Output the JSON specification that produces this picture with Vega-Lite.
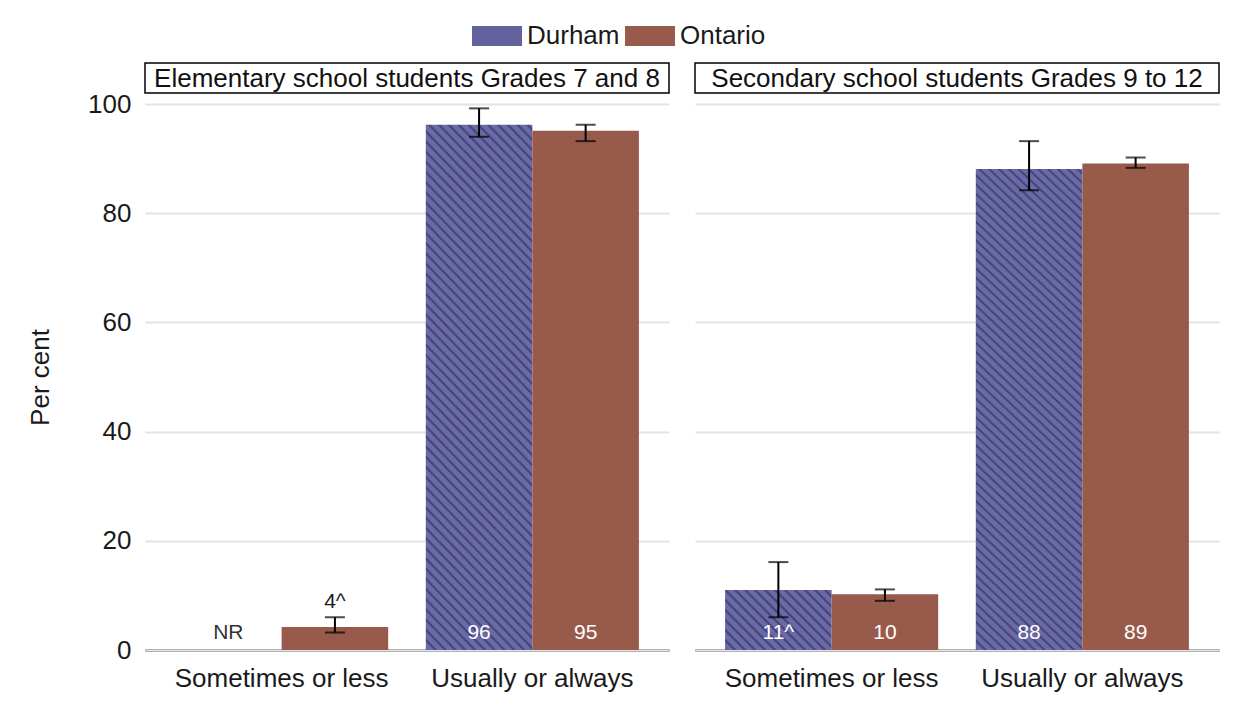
{
  "$schema": "https://vega.github.io/schema/vega-lite/v6.json",
  "background": "white",
  "padding": {"left": 27, "top": 23, "right": 5, "bottom": 5},
  "data": {
    "values": [
      {"panel": "Elementary school students Grades 7 and 8", "category": "Sometimes or less", "region": "Durham", "value": null, "lo": null, "hi": null, "label": "NR"},
      {"panel": "Elementary school students Grades 7 and 8", "category": "Sometimes or less", "region": "Ontario", "value": 4.2, "lo": 3.2, "hi": 6.0, "label": "4^"},
      {"panel": "Elementary school students Grades 7 and 8", "category": "Usually or always", "region": "Durham", "value": 96.2, "lo": 94.0, "hi": 99.2, "label": "96"},
      {"panel": "Elementary school students Grades 7 and 8", "category": "Usually or always", "region": "Ontario", "value": 95.1, "lo": 93.2, "hi": 96.2, "label": "95"},
      {"panel": "Secondary school students Grades 9 to 12", "category": "Sometimes or less", "region": "Durham", "value": 11.0, "lo": 6.0, "hi": 16.1, "label": "11^"},
      {"panel": "Secondary school students Grades 9 to 12", "category": "Sometimes or less", "region": "Ontario", "value": 10.2, "lo": 9.0, "hi": 11.1, "label": "10"},
      {"panel": "Secondary school students Grades 9 to 12", "category": "Usually or always", "region": "Durham", "value": 88.1, "lo": 84.2, "hi": 93.2, "label": "88"},
      {"panel": "Secondary school students Grades 9 to 12", "category": "Usually or always", "region": "Ontario", "value": 89.1, "lo": 88.3, "hi": 90.2, "label": "89"}
    ]
  },
  "facet": {
    "column": {
      "field": "panel",
      "type": "nominal",
      "sort": ["Elementary school students Grades 7 and 8", "Secondary school students Grades 9 to 12"],
      "title": null,
      "header": {"labels": false, "title": null}
    }
  },
  "spacing": 24,
  "spec": {
    "width": 524,
    "height": 546,
    "layer": [
      {
        "mark": {"type": "bar"},
        "encoding": {
          "x": {"field": "category", "type": "nominal", "title": null, "scale": {"paddingInner": 0.15, "paddingOuter": 0.12}},
          "xOffset": {"field": "region", "type": "nominal", "sort": ["Durham", "Ontario"], "scale": {"paddingInner": 0}},
          "y": {"field": "value", "type": "quantitative", "title": "Per cent", "scale": {"domain": [0, 100], "nice": false},
                "axis": {"values": [0, 20, 40, 60, 80, 100]}},
          "color": {
            "condition": [
              {"test": "datum.region == 'Durham' && datum.value >= 50", "value": {
                "gradient": "linear", "x1": 0, "y1": 1, "x2": 0.2432, "y2": -0.159,
                "stops": [
                  {"offset": 0, "color": "#3d3d70"}, {"offset": 0.004, "color": "#6a6aa7"}, {"offset": 0.012, "color": "#6a6aa7"},
                  {"offset": 0.016, "color": "#3d3d70"}, {"offset": 0.02, "color": "#6a6aa7"}, {"offset": 0.028, "color": "#6a6aa7"},
                  {"offset": 0.032, "color": "#3d3d70"}, {"offset": 0.036, "color": "#6a6aa7"}, {"offset": 0.044, "color": "#6a6aa7"},
                  {"offset": 0.048, "color": "#3d3d70"}, {"offset": 0.052, "color": "#6a6aa7"}, {"offset": 0.06, "color": "#6a6aa7"},
                  {"offset": 0.064, "color": "#3d3d70"}, {"offset": 0.068, "color": "#6a6aa7"}, {"offset": 0.076, "color": "#6a6aa7"},
                  {"offset": 0.08, "color": "#3d3d70"}, {"offset": 0.084, "color": "#6a6aa7"}, {"offset": 0.092, "color": "#6a6aa7"},
                  {"offset": 0.096, "color": "#3d3d70"}, {"offset": 0.1, "color": "#6a6aa7"}, {"offset": 0.108, "color": "#6a6aa7"},
                  {"offset": 0.112, "color": "#3d3d70"}, {"offset": 0.116, "color": "#6a6aa7"}, {"offset": 0.124, "color": "#6a6aa7"},
                  {"offset": 0.128, "color": "#3d3d70"}, {"offset": 0.132, "color": "#6a6aa7"}, {"offset": 0.14, "color": "#6a6aa7"},
                  {"offset": 0.144, "color": "#3d3d70"}, {"offset": 0.148, "color": "#6a6aa7"}, {"offset": 0.156, "color": "#6a6aa7"},
                  {"offset": 0.16, "color": "#3d3d70"}, {"offset": 0.164, "color": "#6a6aa7"}, {"offset": 0.172, "color": "#6a6aa7"},
                  {"offset": 0.176, "color": "#3d3d70"}, {"offset": 0.18, "color": "#6a6aa7"}, {"offset": 0.188, "color": "#6a6aa7"},
                  {"offset": 0.192, "color": "#3d3d70"}, {"offset": 0.196, "color": "#6a6aa7"}, {"offset": 0.204, "color": "#6a6aa7"},
                  {"offset": 0.208, "color": "#3d3d70"}, {"offset": 0.212, "color": "#6a6aa7"}, {"offset": 0.22, "color": "#6a6aa7"},
                  {"offset": 0.224, "color": "#3d3d70"}, {"offset": 0.228, "color": "#6a6aa7"}, {"offset": 0.236, "color": "#6a6aa7"},
                  {"offset": 0.24, "color": "#3d3d70"}, {"offset": 0.244, "color": "#6a6aa7"}, {"offset": 0.252, "color": "#6a6aa7"},
                  {"offset": 0.256, "color": "#3d3d70"}, {"offset": 0.26, "color": "#6a6aa7"}, {"offset": 0.268, "color": "#6a6aa7"},
                  {"offset": 0.272, "color": "#3d3d70"}, {"offset": 0.276, "color": "#6a6aa7"}, {"offset": 0.284, "color": "#6a6aa7"},
                  {"offset": 0.288, "color": "#3d3d70"}, {"offset": 0.292, "color": "#6a6aa7"}, {"offset": 0.3, "color": "#6a6aa7"},
                  {"offset": 0.304, "color": "#3d3d70"}, {"offset": 0.308, "color": "#6a6aa7"}, {"offset": 0.316, "color": "#6a6aa7"},
                  {"offset": 0.32, "color": "#3d3d70"}, {"offset": 0.324, "color": "#6a6aa7"}, {"offset": 0.332, "color": "#6a6aa7"},
                  {"offset": 0.336, "color": "#3d3d70"}, {"offset": 0.34, "color": "#6a6aa7"}, {"offset": 0.348, "color": "#6a6aa7"},
                  {"offset": 0.352, "color": "#3d3d70"}, {"offset": 0.356, "color": "#6a6aa7"}, {"offset": 0.364, "color": "#6a6aa7"},
                  {"offset": 0.368, "color": "#3d3d70"}, {"offset": 0.372, "color": "#6a6aa7"}, {"offset": 0.38, "color": "#6a6aa7"},
                  {"offset": 0.384, "color": "#3d3d70"}, {"offset": 0.388, "color": "#6a6aa7"}, {"offset": 0.396, "color": "#6a6aa7"},
                  {"offset": 0.4, "color": "#3d3d70"}, {"offset": 0.404, "color": "#6a6aa7"}, {"offset": 0.412, "color": "#6a6aa7"},
                  {"offset": 0.416, "color": "#3d3d70"}, {"offset": 0.42, "color": "#6a6aa7"}, {"offset": 0.428, "color": "#6a6aa7"},
                  {"offset": 0.432, "color": "#3d3d70"}, {"offset": 0.436, "color": "#6a6aa7"}, {"offset": 0.444, "color": "#6a6aa7"},
                  {"offset": 0.448, "color": "#3d3d70"}, {"offset": 0.452, "color": "#6a6aa7"}, {"offset": 0.46, "color": "#6a6aa7"},
                  {"offset": 0.464, "color": "#3d3d70"}, {"offset": 0.468, "color": "#6a6aa7"}, {"offset": 0.476, "color": "#6a6aa7"},
                  {"offset": 0.48, "color": "#3d3d70"}, {"offset": 0.484, "color": "#6a6aa7"}, {"offset": 0.492, "color": "#6a6aa7"},
                  {"offset": 0.496, "color": "#3d3d70"}, {"offset": 0.5, "color": "#6a6aa7"}, {"offset": 0.508, "color": "#6a6aa7"},
                  {"offset": 0.512, "color": "#3d3d70"}, {"offset": 0.516, "color": "#6a6aa7"}, {"offset": 0.524, "color": "#6a6aa7"},
                  {"offset": 0.528, "color": "#3d3d70"}, {"offset": 0.532, "color": "#6a6aa7"}, {"offset": 0.54, "color": "#6a6aa7"},
                  {"offset": 0.544, "color": "#3d3d70"}, {"offset": 0.548, "color": "#6a6aa7"}, {"offset": 0.556, "color": "#6a6aa7"},
                  {"offset": 0.56, "color": "#3d3d70"}, {"offset": 0.564, "color": "#6a6aa7"}, {"offset": 0.572, "color": "#6a6aa7"},
                  {"offset": 0.576, "color": "#3d3d70"}, {"offset": 0.58, "color": "#6a6aa7"}, {"offset": 0.588, "color": "#6a6aa7"},
                  {"offset": 0.592, "color": "#3d3d70"}, {"offset": 0.596, "color": "#6a6aa7"}, {"offset": 0.604, "color": "#6a6aa7"},
                  {"offset": 0.608, "color": "#3d3d70"}, {"offset": 0.612, "color": "#6a6aa7"}, {"offset": 0.62, "color": "#6a6aa7"},
                  {"offset": 0.624, "color": "#3d3d70"}, {"offset": 0.628, "color": "#6a6aa7"}, {"offset": 0.636, "color": "#6a6aa7"},
                  {"offset": 0.64, "color": "#3d3d70"}, {"offset": 0.644, "color": "#6a6aa7"}, {"offset": 0.652, "color": "#6a6aa7"},
                  {"offset": 0.656, "color": "#3d3d70"}, {"offset": 0.66, "color": "#6a6aa7"}, {"offset": 0.668, "color": "#6a6aa7"},
                  {"offset": 0.672, "color": "#3d3d70"}, {"offset": 0.676, "color": "#6a6aa7"}, {"offset": 0.684, "color": "#6a6aa7"},
                  {"offset": 0.688, "color": "#3d3d70"}, {"offset": 0.692, "color": "#6a6aa7"}, {"offset": 0.7, "color": "#6a6aa7"},
                  {"offset": 0.704, "color": "#3d3d70"}, {"offset": 0.708, "color": "#6a6aa7"}, {"offset": 0.716, "color": "#6a6aa7"},
                  {"offset": 0.72, "color": "#3d3d70"}, {"offset": 0.724, "color": "#6a6aa7"}, {"offset": 0.732, "color": "#6a6aa7"},
                  {"offset": 0.736, "color": "#3d3d70"}, {"offset": 0.74, "color": "#6a6aa7"}, {"offset": 0.748, "color": "#6a6aa7"},
                  {"offset": 0.752, "color": "#3d3d70"}, {"offset": 0.756, "color": "#6a6aa7"}, {"offset": 0.764, "color": "#6a6aa7"},
                  {"offset": 0.768, "color": "#3d3d70"}, {"offset": 0.772, "color": "#6a6aa7"}, {"offset": 0.78, "color": "#6a6aa7"},
                  {"offset": 0.784, "color": "#3d3d70"}, {"offset": 0.788, "color": "#6a6aa7"}, {"offset": 0.796, "color": "#6a6aa7"},
                  {"offset": 0.8, "color": "#3d3d70"}, {"offset": 0.804, "color": "#6a6aa7"}, {"offset": 0.812, "color": "#6a6aa7"},
                  {"offset": 0.816, "color": "#3d3d70"}, {"offset": 0.82, "color": "#6a6aa7"}, {"offset": 0.828, "color": "#6a6aa7"},
                  {"offset": 0.832, "color": "#3d3d70"}, {"offset": 0.836, "color": "#6a6aa7"}, {"offset": 0.844, "color": "#6a6aa7"},
                  {"offset": 0.848, "color": "#3d3d70"}, {"offset": 0.852, "color": "#6a6aa7"}, {"offset": 0.86, "color": "#6a6aa7"},
                  {"offset": 0.864, "color": "#3d3d70"}, {"offset": 0.868, "color": "#6a6aa7"}, {"offset": 0.876, "color": "#6a6aa7"},
                  {"offset": 0.88, "color": "#3d3d70"}, {"offset": 0.884, "color": "#6a6aa7"}, {"offset": 0.892, "color": "#6a6aa7"},
                  {"offset": 0.896, "color": "#3d3d70"}, {"offset": 0.9, "color": "#6a6aa7"}, {"offset": 0.908, "color": "#6a6aa7"},
                  {"offset": 0.912, "color": "#3d3d70"}, {"offset": 0.916, "color": "#6a6aa7"}, {"offset": 0.924, "color": "#6a6aa7"},
                  {"offset": 0.928, "color": "#3d3d70"}, {"offset": 0.932, "color": "#6a6aa7"}, {"offset": 0.94, "color": "#6a6aa7"},
                  {"offset": 0.944, "color": "#3d3d70"}, {"offset": 0.948, "color": "#6a6aa7"}, {"offset": 0.956, "color": "#6a6aa7"},
                  {"offset": 0.96, "color": "#3d3d70"}, {"offset": 0.964, "color": "#6a6aa7"}, {"offset": 0.972, "color": "#6a6aa7"},
                  {"offset": 0.976, "color": "#3d3d70"}, {"offset": 0.98, "color": "#6a6aa7"}, {"offset": 0.988, "color": "#6a6aa7"},
                  {"offset": 0.992, "color": "#3d3d70"}, {"offset": 0.996, "color": "#6a6aa7"}, {"offset": 1, "color": "#6a6aa7"}
                ]
              }},
              {"test": "datum.region == 'Durham' && datum.value < 50", "value": {
                "gradient": "linear", "x1": 0, "y1": 1, "x2": 1.1874, "y2": 0.3342,
                "stops": [
                  {"offset": 0, "color": "#3d3d70"}, {"offset": 0.015, "color": "#6a6aa7"}, {"offset": 0.045, "color": "#6a6aa7"},
                  {"offset": 0.06, "color": "#3d3d70"}, {"offset": 0.075, "color": "#6a6aa7"}, {"offset": 0.105, "color": "#6a6aa7"},
                  {"offset": 0.12, "color": "#3d3d70"}, {"offset": 0.135, "color": "#6a6aa7"}, {"offset": 0.165, "color": "#6a6aa7"},
                  {"offset": 0.18, "color": "#3d3d70"}, {"offset": 0.195, "color": "#6a6aa7"}, {"offset": 0.225, "color": "#6a6aa7"},
                  {"offset": 0.24, "color": "#3d3d70"}, {"offset": 0.255, "color": "#6a6aa7"}, {"offset": 0.285, "color": "#6a6aa7"},
                  {"offset": 0.3, "color": "#3d3d70"}, {"offset": 0.315, "color": "#6a6aa7"}, {"offset": 0.345, "color": "#6a6aa7"},
                  {"offset": 0.36, "color": "#3d3d70"}, {"offset": 0.375, "color": "#6a6aa7"}, {"offset": 0.405, "color": "#6a6aa7"},
                  {"offset": 0.42, "color": "#3d3d70"}, {"offset": 0.435, "color": "#6a6aa7"}, {"offset": 0.465, "color": "#6a6aa7"},
                  {"offset": 0.48, "color": "#3d3d70"}, {"offset": 0.495, "color": "#6a6aa7"}, {"offset": 0.525, "color": "#6a6aa7"},
                  {"offset": 0.54, "color": "#3d3d70"}, {"offset": 0.555, "color": "#6a6aa7"}, {"offset": 0.585, "color": "#6a6aa7"},
                  {"offset": 0.6, "color": "#3d3d70"}, {"offset": 0.615, "color": "#6a6aa7"}, {"offset": 0.645, "color": "#6a6aa7"},
                  {"offset": 0.66, "color": "#3d3d70"}, {"offset": 0.675, "color": "#6a6aa7"}, {"offset": 0.705, "color": "#6a6aa7"},
                  {"offset": 0.72, "color": "#3d3d70"}, {"offset": 0.735, "color": "#6a6aa7"}, {"offset": 0.765, "color": "#6a6aa7"},
                  {"offset": 0.78, "color": "#3d3d70"}, {"offset": 0.795, "color": "#6a6aa7"}, {"offset": 0.825, "color": "#6a6aa7"},
                  {"offset": 0.84, "color": "#3d3d70"}, {"offset": 0.855, "color": "#6a6aa7"}, {"offset": 0.885, "color": "#6a6aa7"},
                  {"offset": 0.9, "color": "#3d3d70"}, {"offset": 0.915, "color": "#6a6aa7"}, {"offset": 0.945, "color": "#6a6aa7"},
                  {"offset": 0.96, "color": "#3d3d70"}, {"offset": 0.975, "color": "#6a6aa7"}, {"offset": 1, "color": "#6a6aa7"}
                ]
              }}
            ],
            "field": "region", "type": "nominal",
            "scale": {"domain": ["Durham", "Ontario"], "range": ["#62629d", "#985a4b"]},
            "legend": {
              "orient": "none", "direction": "horizontal", "title": null,
              "legendX": 324, "legendY": -81,
              "symbolType": "M-1,-1H4V1H-1Z", "symbolSize": 400, "symbolStrokeWidth": 0,
              "labelFontSize": 26, "labelColor": "#1a1a1a", "labelOffset": 32, "columnPadding": 2
            }
          }
        }
      },
      {
        "mark": {"type": "rule", "color": "black", "strokeWidth": 2},
        "encoding": {
          "x": {"field": "category", "type": "nominal"},
          "xOffset": {"field": "region", "type": "nominal", "sort": ["Durham", "Ontario"]},
          "y": {"field": "lo", "type": "quantitative"},
          "y2": {"field": "hi"}
        }
      },
      {
        "mark": {"type": "tick", "color": "black", "thickness": 2, "size": 20},
        "encoding": {
          "x": {"field": "category", "type": "nominal"},
          "xOffset": {"field": "region", "type": "nominal", "sort": ["Durham", "Ontario"]},
          "y": {"field": "lo", "type": "quantitative"}
        }
      },
      {
        "mark": {"type": "tick", "color": "black", "thickness": 2, "size": 20},
        "encoding": {
          "x": {"field": "category", "type": "nominal"},
          "xOffset": {"field": "region", "type": "nominal", "sort": ["Durham", "Ontario"]},
          "y": {"field": "hi", "type": "quantitative"}
        }
      },
      {
        "transform": [{"filter": "datum.value == null || datum.value >= 8"}],
        "mark": {"type": "text", "fontSize": 21, "baseline": "middle", "dy": -17},
        "encoding": {
          "x": {"field": "category", "type": "nominal"},
          "xOffset": {"field": "region", "type": "nominal", "sort": ["Durham", "Ontario"]},
          "y": {"datum": 0},
          "text": {"field": "label"},
          "color": {"condition": {"test": "datum.value == null", "value": "#333333"}, "value": "white"}
        }
      },
      {
        "transform": [{"filter": "datum.value != null && datum.value < 8"}],
        "mark": {"type": "text", "fontSize": 21, "baseline": "middle", "dy": -15, "color": "#1a1a1a"},
        "encoding": {
          "x": {"field": "category", "type": "nominal"},
          "xOffset": {"field": "region", "type": "nominal", "sort": ["Durham", "Ontario"]},
          "y": {"field": "hi", "type": "quantitative"},
          "text": {"field": "label"}
        }
      },
      {
        "transform": [{"filter": "datum.region == 'Ontario' && datum.category == 'Usually or always'"}],
        "mark": {"type": "rect", "fill": "white", "stroke": "black", "strokeWidth": 1.5},
        "encoding": {
          "y": {"datum": 102},
          "y2": {"datum": 107.5}
        }
      },
      {
        "transform": [{"filter": "datum.region == 'Ontario' && datum.category == 'Usually or always'"}],
        "mark": {"type": "text", "fontSize": 26, "baseline": "middle", "dy": 1, "color": "#111"},
        "encoding": {
          "y": {"datum": 104.75},
          "text": {"field": "panel"}
        }
      }
    ]
  },
  "config": {
    "font": "Liberation Sans",
    "view": {"stroke": null},
    "axisY": {
      "titleFontSize": 26, "titleFontWeight": "normal", "titleColor": "#1a1a1a", "titlePadding": 34,
      "labelFontSize": 26, "labelColor": "#1a1a1a", "labelPadding": 13,
      "ticks": false, "domain": false, "grid": true, "gridColor": "#e4e4e4", "gridWidth": 2
    },
    "axisX": {
      "labelFontSize": 26, "labelColor": "#1a1a1a", "labelAngle": 0, "labelPadding": 15, "labelLimit": 0,
      "ticks": false, "domainColor": "black", "domainWidth": 2, "grid": false
    }
  }
}
